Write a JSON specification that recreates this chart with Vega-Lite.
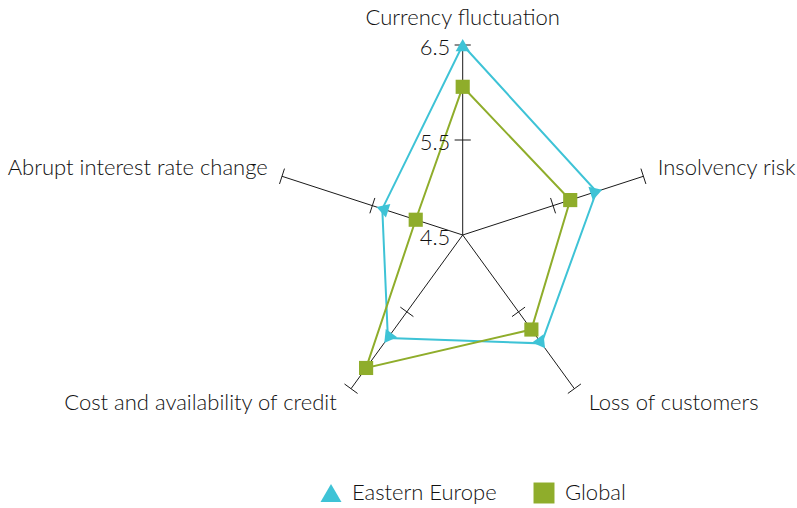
{
  "$schema": "https://vega.github.io/schema/vega-lite/v6.json",
  "width": 797,
  "height": 508,
  "padding": 0,
  "autosize": {"type": "none"},
  "background": "white",
  "config": {"view": {"stroke": null}, "font": "Lato"},
  "datasets": {
    "scores": [
      {"factor": "Currency fluctuation", "idx": 0, "region": "Eastern Europe", "value": 6.5},
      {"factor": "Insolvency risk", "idx": 1, "region": "Eastern Europe", "value": 5.98},
      {"factor": "Loss of customers", "idx": 2, "region": "Eastern Europe", "value": 5.91},
      {"factor": "Cost and availability of credit", "idx": 3, "region": "Eastern Europe", "value": 5.84},
      {"factor": "Abrupt interest rate change", "idx": 4, "region": "Eastern Europe", "value": 5.39},
      {"factor": "Currency fluctuation", "idx": 0, "region": "Global", "value": 6.06},
      {"factor": "Insolvency risk", "idx": 1, "region": "Global", "value": 5.69},
      {"factor": "Loss of customers", "idx": 2, "region": "Global", "value": 5.73},
      {"factor": "Cost and availability of credit", "idx": 3, "region": "Global", "value": 6.23},
      {"factor": "Abrupt interest rate change", "idx": 4, "region": "Global", "value": 5.02}
    ],
    "spokes": [
      {"factor": "Currency fluctuation", "idx": 0, "side": "center"},
      {"factor": "Insolvency risk", "idx": 1, "side": "left"},
      {"factor": "Loss of customers", "idx": 2, "side": "left"},
      {"factor": "Cost and availability of credit", "idx": 3, "side": "right"},
      {"factor": "Abrupt interest rate change", "idx": 4, "side": "right"}
    ],
    "ticks": [
      {"idx": 0, "tick": 5.5}, {"idx": 0, "tick": 6.5},
      {"idx": 1, "tick": 5.5}, {"idx": 1, "tick": 6.5},
      {"idx": 2, "tick": 5.5}, {"idx": 2, "tick": 6.5},
      {"idx": 3, "tick": 5.5}, {"idx": 3, "tick": 6.5},
      {"idx": 4, "tick": 5.5}, {"idx": 4, "tick": 6.5}
    ],
    "ticklabels": [
      {"label": "6.5", "tick": 6.5},
      {"label": "5.5", "tick": 5.5},
      {"label": "4.5", "tick": 4.5}
    ]
  },
  "layer": [
    {
      "data": {"name": "spokes"},
      "transform": [
        {"calculate": "datum.idx * 72 * PI / 180", "as": "rad"},
        {"calculate": "0", "as": "x0"},
        {"calculate": "0", "as": "y0"},
        {"calculate": "2 * sin(datum.rad)", "as": "x1"},
        {"calculate": "2 * cos(datum.rad)", "as": "y1"}
      ],
      "mark": {"type": "rule", "color": "#1a1a1a", "strokeWidth": 1},
      "encoding": {
        "x": {"field": "x0", "type": "quantitative", "scale": {"domain": [-4.8705, 3.5189], "zero": false, "nice": false}, "axis": null},
        "y": {"field": "y0", "type": "quantitative", "scale": {"domain": [-2.8737, 2.4737], "zero": false, "nice": false}, "axis": null},
        "x2": {"field": "x1"},
        "y2": {"field": "y1"}
      }
    },
    {
      "data": {"name": "ticks"},
      "transform": [
        {"calculate": "datum.idx * 72 * PI / 180", "as": "rad"},
        {"calculate": "(datum.tick - 4.5) * sin(datum.rad) + 0.085 * cos(datum.rad)", "as": "xa"},
        {"calculate": "(datum.tick - 4.5) * cos(datum.rad) - 0.085 * sin(datum.rad)", "as": "ya"},
        {"calculate": "(datum.tick - 4.5) * sin(datum.rad) - 0.085 * cos(datum.rad)", "as": "xb"},
        {"calculate": "(datum.tick - 4.5) * cos(datum.rad) + 0.085 * sin(datum.rad)", "as": "yb"}
      ],
      "mark": {"type": "rule", "color": "#1a1a1a", "strokeWidth": 1},
      "encoding": {
        "x": {"field": "xa", "type": "quantitative"},
        "y": {"field": "ya", "type": "quantitative"},
        "x2": {"field": "xb"},
        "y2": {"field": "yb"}
      }
    },
    {
      "data": {"name": "scores"},
      "transform": [
        {"calculate": "datum.idx * 72 * PI / 180", "as": "rad"},
        {"calculate": "(datum.value - 4.5) * sin(datum.rad)", "as": "px"},
        {"calculate": "(datum.value - 4.5) * cos(datum.rad)", "as": "py"}
      ],
      "mark": {"type": "line", "interpolate": "linear-closed", "strokeWidth": 2},
      "encoding": {
        "x": {"field": "px", "type": "quantitative"},
        "y": {"field": "py", "type": "quantitative"},
        "order": {"field": "idx", "type": "quantitative"},
        "color": {"field": "region", "type": "nominal", "scale": {"domain": ["Eastern Europe", "Global"], "range": ["#3ec3d6", "#8fad2b"]}}
      }
    },
    {
      "data": {"name": "scores"},
      "transform": [
        {"calculate": "datum.idx * 72 * PI / 180", "as": "rad"},
        {"calculate": "(datum.value - 4.5) * sin(datum.rad)", "as": "px"},
        {"calculate": "(datum.value - 4.5) * cos(datum.rad)", "as": "py"},
        {"calculate": "datum.region == 'Eastern Europe' ? datum.idx * 72 : 0", "as": "pang"}
      ],
      "mark": {"type": "point", "filled": true, "opacity": 1, "size": 200},
      "encoding": {
        "x": {"field": "px", "type": "quantitative"},
        "y": {"field": "py", "type": "quantitative"},
        "angle": {"field": "pang", "type": "quantitative", "scale": null},
        "color": {"field": "region", "type": "nominal", "scale": {"domain": ["Eastern Europe", "Global"], "range": ["#3ec3d6", "#8fad2b"]},
          "legend": {"title": null, "orient": "none", "legendX": 320, "legendY": 482, "direction": "horizontal", "symbolSize": 440, "symbolStrokeWidth": 0, "symbolFillColor": null, "labelFont": "Lato", "labelFontWeight": 300, "labelFontSize": 22, "labelColor": "#111", "labelOffset": 10, "columnPadding": 36, "symbolOpacity": 1}},
        "shape": {"field": "region", "type": "nominal", "scale": {"domain": ["Eastern Europe", "Global"], "range": ["triangle-up", "square"]}}
      }
    },
    {
      "data": {"name": "ticklabels"},
      "transform": [
        {"calculate": "-0.13", "as": "tx"},
        {"calculate": "datum.tick - 4.5", "as": "ty"}
      ],
      "mark": {"type": "text", "align": "right", "baseline": "middle", "dy": 3, "fontSize": 22, "fontWeight": 300, "font": "Lato", "color": "#111"},
      "encoding": {
        "x": {"field": "tx", "type": "quantitative"},
        "y": {"field": "ty", "type": "quantitative"},
        "text": {"field": "label"}
      }
    },
    {
      "data": {"name": "spokes"},
      "transform": [
        {"filter": "datum.side == 'center'"},
        {"calculate": "datum.idx * 72 * PI / 180", "as": "rad"},
        {"calculate": "2.284 * sin(datum.rad)", "as": "lx"},
        {"calculate": "2.284 * cos(datum.rad)", "as": "ly"}
      ],
      "mark": {"type": "text", "align": "center", "baseline": "middle", "fontSize": 22, "fontWeight": 300, "font": "Lato", "color": "#111"},
      "encoding": {
        "x": {"field": "lx", "type": "quantitative"},
        "y": {"field": "ly", "type": "quantitative"},
        "text": {"field": "factor"}
      }
    },
    {
      "data": {"name": "spokes"},
      "transform": [
        {"filter": "datum.side == 'left'"},
        {"calculate": "datum.idx * 72 * PI / 180", "as": "rad"},
        {"calculate": "2 * sin(datum.rad) + 0.15", "as": "lx"},
        {"calculate": "2 * cos(datum.rad) + (cos(datum.rad) > 0 ? 0.09 : -0.15)", "as": "ly"}
      ],
      "mark": {"type": "text", "align": "left", "baseline": "middle", "fontSize": 22, "fontWeight": 300, "font": "Lato", "color": "#111"},
      "encoding": {
        "x": {"field": "lx", "type": "quantitative"},
        "y": {"field": "ly", "type": "quantitative"},
        "text": {"field": "factor"}
      }
    },
    {
      "data": {"name": "spokes"},
      "transform": [
        {"filter": "datum.side == 'right'"},
        {"calculate": "datum.idx * 72 * PI / 180", "as": "rad"},
        {"calculate": "2 * sin(datum.rad) - 0.15", "as": "lx"},
        {"calculate": "2 * cos(datum.rad) + (cos(datum.rad) > 0 ? 0.09 : -0.15)", "as": "ly"}
      ],
      "mark": {"type": "text", "align": "right", "baseline": "middle", "fontSize": 22, "fontWeight": 300, "font": "Lato", "color": "#111"},
      "encoding": {
        "x": {"field": "lx", "type": "quantitative"},
        "y": {"field": "ly", "type": "quantitative"},
        "text": {"field": "factor"}
      }
    }
  ]
}
